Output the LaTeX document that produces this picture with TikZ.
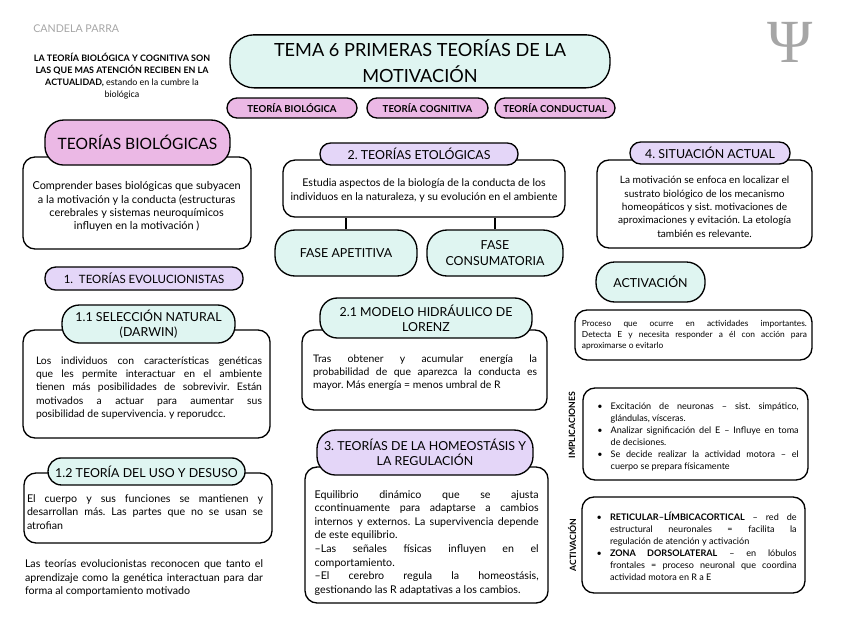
\documentclass[tikz,border=0pt]{standalone}
\usepackage{fontspec}
\setmainfont{Lato}
\newfontfamily\psifont{Liberation Serif}
\definecolor{menta}{HTML}{DFF5F1}
\definecolor{rosa}{HTML}{EBB8E5}
\definecolor{lila}{HTML}{E4D6F8}
\newcommand{\cuerpo}{\fontsize{7.8}{9.8}\selectfont}
\newcommand{\menor}{\fontsize{6.8}{9}\selectfont}
\newcommand{\cabecera}{\fontsize{9.3}{11.5}\selectfont}
\newcommand{\vineta}{\par\leftskip=10pt\noindent\llap{\hbox to 10pt{\textbullet\hfil}}}
\frenchspacing
\begin{document}
\begin{tikzpicture}[x=1pt,y=-1pt,
  caja/.style={draw, line width=1pt, rounded corners=9pt, fill=white},
  cabeza/.style={draw, line width=1pt, align=center, font=\cabecera},
  etiqueta/.style={draw, line width=1pt, fill=rosa, rounded corners=7.5pt, minimum height=15pt, font=\bfseries\fontsize{7.2}{8}\selectfont},
  parrafo/.style={align=justify, font=\cuerpo, inner sep=0pt},
  vertical/.style={rotate=90, font=\bfseries\fontsize{6.5}{7}\selectfont}]
 \useasboundingbox (0,0) rectangle (636,477);
 \node[cabeza, fill=menta, rounded corners=18pt, minimum width=285pt, minimum height=39.75pt, font=\fontsize{13.6}{19.5}\selectfont] (tema) at (315,46) {TEMA 6 PRIMERAS TEORÍAS DE LA\\MOTIVACIÓN};
 \node[etiqueta, minimum width=97.5pt] (tbio) at (219,81) {TEORÍA BIOLÓGICA};
 \node[etiqueta, minimum width=90.75pt] (tcog) at (320.6,81) {TEORÍA COGNITIVA};
 \node[etiqueta, minimum width=90pt] (tcond) at (416.25,81) {TEORÍA CONDUCTUAL};
 \node[text=gray!70, font=\psifont\fontsize{46}{46}\selectfont] (psi) at (592.5,31.5) {Ψ};
 \node[anchor=west, text=gray!70, font=\fontsize{8}{9}\selectfont, inner sep=0pt] (autora) at (24.75,21.75) {CANDELA PARRA};
 \node[align=center, font=\bfseries\fontsize{6.7}{9}\selectfont] (intro) at (91.5,57) {LA TEORÍA BIOLÓGICA Y COGNITIVA SON\\LAS QUE MAS ATENCIÓN RECIBEN EN LA\\ACTUALIDAD, {\mdseries estando en la cumbre la}\\{\mdseries biológica}};
 % columna izquierda
 \node[caja, minimum width=171pt, minimum height=69pt] (biocaja) at (102.75,152.25) {};
 \node[align=center, font=\fontsize{8.2}{9.9}\selectfont] (biotxt) at (102.5,155) {Comprender bases biológicas que subyacen\\a la motivación y la conducta (estructuras\\cerebrales y sistemas neuroquímicos\\influyen en la motivación )};
 \node[cabeza, fill=rosa, rounded corners=14pt, minimum width=138.75pt, minimum height=33.75pt, font=\fontsize{11.7}{13}\selectfont] (biotit) at (103.1,106.9) {TEORÍAS BIOLÓGICAS};
 \node[cabeza, fill=lila, rounded corners=8pt, minimum width=148.5pt, minimum height=17.25pt, font=\fontsize{8.6}{10}\selectfont] (evol) at (108,208.9) {1.\ \ TEORÍAS EVOLUCIONISTAS};
 \node[caja, minimum width=185.25pt, minimum height=81pt] (darcaja) at (109.9,288) {};
 \node[parrafo, text width=169.5pt] (dartxt) at (111.75,291) {Los individuos con características genéticas\linebreak que les permite interactuar en el ambiente\linebreak tienen más posibilidades de sobrevivir. Están\linebreak motivados a actuar para aumentar sus\linebreak posibilidad de supervivencia. y reporudcc.};
 \node[cabeza, fill=menta, rounded corners=13pt, minimum width=129.75pt, minimum height=28.5pt] (dartit) at (111.4,243) {1.1 SELECCIÓN NATURAL\\(DARWIN)};
 \node[caja, minimum width=186pt, minimum height=52.5pt] (usocaja) at (111,381) {};
 \node[parrafo, text width=177pt, font=\fontsize{8}{10}\selectfont] (usotxt) at (108.75,384) {El cuerpo y sus funciones se mantienen y\linebreak desarrollan más. Las partes que no se usan se\linebreak atrofian};
 \node[cabeza, fill=menta, rounded corners=10pt, minimum width=147.75pt, minimum height=20.25pt] (usotit) at (109.9,353.6) {1.2 TEORÍA DEL USO Y DESUSO};
 \node[parrafo, text width=178.5pt, font=\fontsize{8}{10}\selectfont] (cierre) at (108,433.5) {Las teorías evolucionistas reconocen que tanto el\linebreak aprendizaje como la genética interactuan para dar\linebreak forma al comportamiento motivado};
 % columna central
 \node[caja, minimum width=211.5pt, minimum height=42.75pt] (etocaja) at (318,141.4) {};
 \node[align=center, font=\fontsize{8}{10.5}\selectfont] (etotxt) at (318,143) {Estudia aspectos de la biología de la conducta de los\\individuos en la naturaleza, y su evolución en el ambiente};
 \node[cabeza, fill=lila, rounded corners=8pt, minimum width=148.5pt, minimum height=16.5pt] (etotit) at (314.25,115.5) {2. TEORÍAS ETOLÓGICAS};
 \node[cabeza, fill=menta, rounded corners=15pt, minimum width=106.5pt, minimum height=34.5pt] (fapet) at (259.5,189.75) {FASE APETITIVA};
 \node[cabeza, fill=menta, rounded corners=15pt, minimum width=102pt, minimum height=34.5pt] (fcons) at (371.25,189.75) {FASE\\CONSUMATORIA};
 \draw[line width=1pt] (fapet.north) -- (fapet.north |- etocaja.south);
 \draw[line width=1pt] (fcons.north) -- (fcons.north |- etocaja.south);
 \node[caja, minimum width=183.75pt, minimum height=60pt] (lorcaja) at (318.4,277.5) {};
 \node[parrafo, text width=168pt] (lortxt) at (318.75,279.75) {Tras obtener y acumular energía la\linebreak probabilidad de que aparezca la conducta es\linebreak mayor. Más energía = menos umbral de R};
 \node[cabeza, fill=menta, rounded corners=13pt, minimum width=159pt, minimum height=30pt] (lortit) at (319.5,238.5) {2.1 MODELO HIDRÁULICO DE\\LORENZ};
 \node[caja, minimum width=182.25pt, minimum height=102pt] (homcaja) at (319.9,401.25) {};
 \node[parrafo, text width=168pt, font=\fontsize{8}{10.2}\selectfont] (homtxt) at (320,407) {Equilibrio dinámico que se ajusta\linebreak ccontinuamente para adaptarse a cambios\linebreak internos y externos. La supervivencia depende\linebreak de este equilibrio.\\–Las señales físicas influyen en el\linebreak comportamiento.\\–El cerebro regula la homeostásis,\linebreak gestionando las R adaptativas a los cambios.};
 \node[cabeza, fill=lila, rounded corners=14pt, minimum width=162pt, minimum height=33.75pt] (homtit) at (318.75,339.4) {3. TEORÍAS DE LA HOMEOSTÁSIS Y\\LA REGULACIÓN};
 % columna derecha
 \node[caja, minimum width=161.25pt, minimum height=66pt] (sitcaja) at (528.4,153) {};
 \node[align=center, font=\fontsize{7.6}{10}\selectfont] (sittxt) at (528.4,155) {La motivación se enfoca en localizar el\\sustrato biológico de los mecanismo\\homeopáticos y sist. motivaciones de\\aproximaciones y evitación. La etología\\también es relevante.};
 \node[cabeza, fill=lila, rounded corners=8pt, minimum width=120pt, minimum height=16.5pt] (sittit) at (532.5,114.75) {4. SITUACIÓN ACTUAL};
 \node[cabeza, fill=menta, rounded corners=14pt, minimum width=81.75pt, minimum height=30pt] (actit) at (487.9,211.5) {ACTIVACIÓN};
 \node[caja, minimum width=177.75pt, minimum height=37.5pt] (accaja) at (520.1,251.25) {};
 \node[parrafo, text width=168.75pt, font=\fontsize{6.3}{8.4}\selectfont] (actxt) at (520.8,251.25) {Proceso que ocurre en actividades importantes.\linebreak Detecta E y necesita responder a él con acción para\linebreak aproximarse o evitarlo};
 \node[vertical] (implab) at (429,318.75) {IMPLICACIONES};
 \node[caja, minimum width=168.75pt, minimum height=69pt] (implcaja) at (521.6,325.5) {};
 \node[parrafo, text width=151pt, font=\menor] (impltxt) at (523.5,325.5) {\vineta Excitación de neuronas – sist. simpático,\linebreak glándulas, vísceras.\vineta Analizar significación del E – Influye en toma\linebreak de decisiones.\vineta Se decide realizar la actividad motora – el\linebreak cuerpo se prepara físicamente\par};
 \node[vertical] (actlab) at (429,408.75) {ACTIVACIÓN};
 \node[caja, minimum width=167.25pt, minimum height=72pt] (actcaja) at (520.1,408.75) {};
 \node[parrafo, text width=150pt, font=\menor] (acttxt) at (522.5,408.75) {\vineta\textbf{RETICULAR–LÍMBICACORTICAL} – red de\linebreak estructural neuronales = facilita la\linebreak regulación de atención y activación\vineta\textbf{ZONA DORSOLATERAL} – en lóbulos\linebreak frontales = proceso neuronal que coordina\linebreak actividad motora en R a E\par};
\end{tikzpicture}
\end{document}
